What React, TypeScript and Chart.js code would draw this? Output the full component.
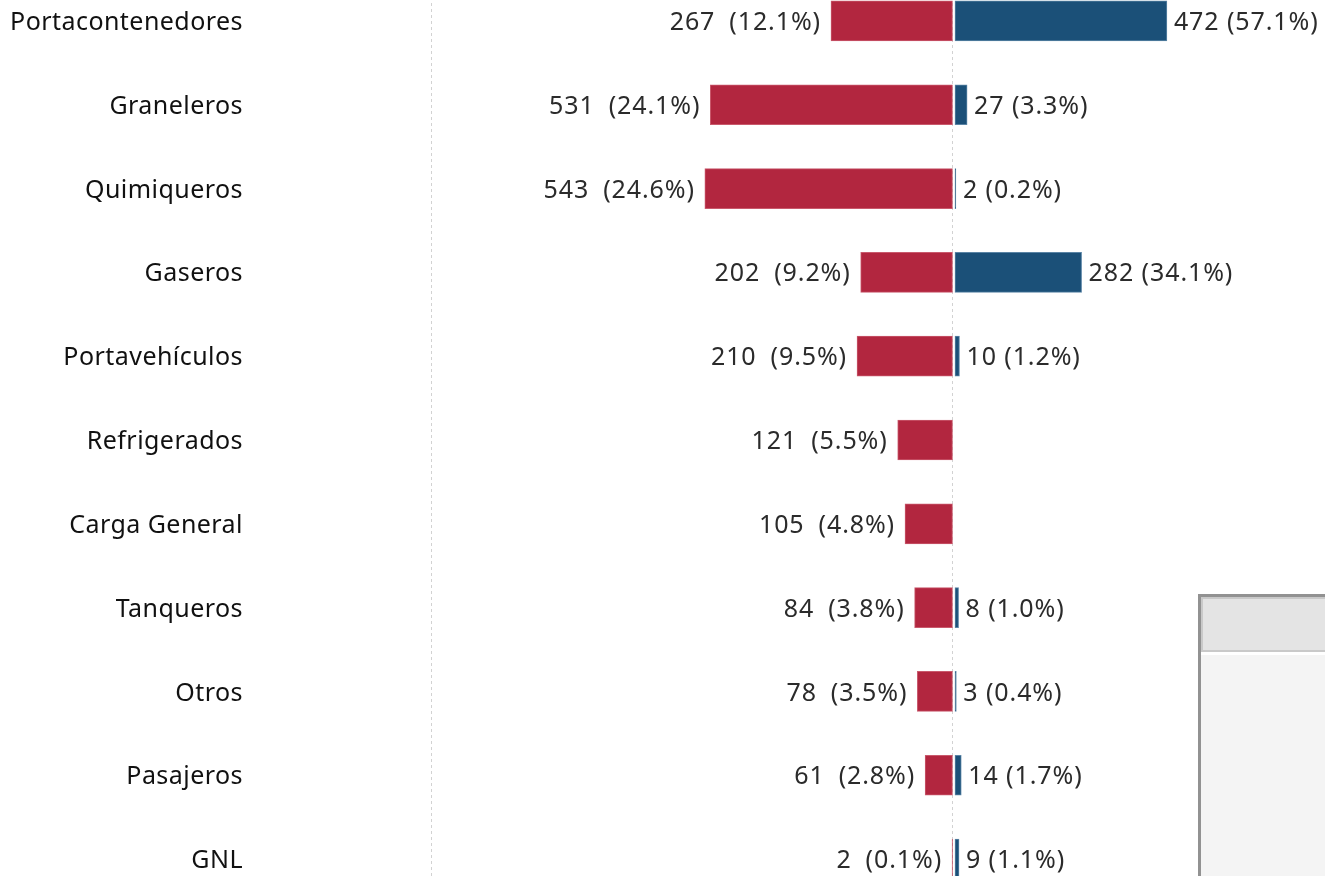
import { useEffect, useRef } from "react";
import { Chart, registerables } from "chart.js";

Chart.register(...registerables);

const categories = [
  "Portacontenedores",
  "Graneleros",
  "Quimiqueros",
  "Gaseros",
  "Portavehículos",
  "Refrigerados",
  "Carga General",
  "Tanqueros",
  "Otros",
  "Pasajeros",
  "GNL",
];
const leftValues = [267, 531, 543, 202, 210, 121, 105, 84, 78, 61, 2];
const leftPercents = ["12.1%", "24.1%", "24.6%", "9.2%", "9.5%", "5.5%", "4.8%", "3.8%", "3.5%", "2.8%", "0.1%"];
const rightValues = [472, 27, 2, 282, 10, 0, 0, 8, 3, 14, 9];
const rightPercents = ["57.1%", "3.3%", "0.2%", "34.1%", "1.2%", "", "", "1.0%", "0.4%", "1.7%", "1.1%"];

const RED = "#B2263F";
const RED_EDGE = "#C9596C";
const BLUE = "#1B5078";
const BLUE_EDGE = "#5A84A5";
const FONT = "'Noto Sans', 'Open Sans', sans-serif";

const spacingPlugin = {
  id: "spacing",
  beforeDraw(chart: any) {
    (chart.ctx as any).letterSpacing = "0.45px";
  },
};

const labelPlugin = {
  id: "valueLabels",
  afterDatasetsDraw(chart: any) {
    const ctx = chart.ctx as CanvasRenderingContext2D;
    ctx.save();
    (ctx as any).letterSpacing = "0.9px";
    ctx.font = `25px ${FONT}`;
    ctx.fillStyle = "#2b2b2b";
    ctx.textBaseline = "middle";
    const m0 = chart.getDatasetMeta(0);
    m0.data.forEach((el: any, i: number) => {
      const pct = `(${leftPercents[i]})`;
      const xr = el.x - 10;
      ctx.textAlign = "right";
      ctx.fillText(pct, xr, el.y + 2);
      const w = ctx.measureText(pct).width;
      ctx.fillText(String(leftValues[i]), xr - w - 14, el.y + 2);
    });
    const m1 = chart.getDatasetMeta(1);
    m1.data.forEach((el: any, i: number) => {
      if (!rightValues[i]) return;
      ctx.textAlign = "left";
      ctx.fillText(`${rightValues[i]} (${rightPercents[i]})`, el.x + 7, el.y + 2);
    });
    ctx.restore();
  },
};

export default function App() {
  const ref = useRef<HTMLCanvasElement | null>(null);
  useEffect(() => {
    if (!ref.current) return;
    const chart = new Chart(ref.current, {
      type: "bar",
      data: {
        labels: categories,
        datasets: [
          {
            data: leftValues.map((v) => -v),
            xAxisID: "x",
            backgroundColor: RED,
            borderColor: RED_EDGE,
            borderWidth: 1,
            borderSkipped: false,
            barThickness: 40,
            grouped: false,
          } as any,
          {
            data: rightValues,
            xAxisID: "x2",
            backgroundColor: BLUE,
            borderColor: BLUE_EDGE,
            borderWidth: 1,
            borderSkipped: false,
            barThickness: 40,
            grouped: false,
          } as any,
        ],
      },
      options: {
        indexAxis: "y",
        animation: false,
        responsive: true,
        maintainAspectRatio: false,
        events: [],
        layout: { padding: 0 },
        plugins: { legend: { display: false }, tooltip: { enabled: false } },
        scales: {
          x: {
            type: "linear",
            position: "bottom",
            min: -1142.2,
            max: 814,
            afterBuildTicks: (s: any) => {
              s.ticks = [{ value: s.min }, { value: 0 }];
            },
            afterFit: (s: any) => {
              s.height = 0;
              s.paddingLeft = 0;
              s.paddingRight = 0;
            },
            ticks: { display: false },
            grid: { color: "#d2d2d2", lineWidth: 1, drawTicks: false },
            border: { display: false, dash: [3, 3] },
          },
          x2: {
            type: "linear",
            position: "top",
            display: false,
            min: -1167,
            max: 824.1,
          },
          y: {
            type: "category",
            position: "left",
            afterFit: (s: any) => {
              s.width = 431;
              s.paddingTop = 0;
              s.paddingBottom = 0;
            },
            ticks: {
              padding: 188,
              labelOffset: 2,
              color: "#111",
              font: { family: FONT, size: 25 },
            },
            grid: { display: false, drawTicks: false },
            border: { display: false },
          },
        },
      } as any,
      plugins: [spacingPlugin, labelPlugin],
    });
    return () => chart.destroy();
  }, []);

  return (
    <div
      style={{
        position: "fixed",
        left: 0,
        top: 0,
        width: 1325,
        height: 876,
        overflow: "hidden",
        background: "#fff",
      }}
    >
      <div style={{ position: "absolute", left: 0, top: -21, width: 1325, height: 922 }}>
        <canvas ref={ref} />
      </div>
      <div
        style={{
          position: "absolute",
          left: 1198,
          top: 594,
          width: 140,
          height: 300,
          background: "#f4f4f4",
          borderLeft: "3px solid #929292",
          borderTop: "3px solid #929292",
          boxSizing: "border-box",
        }}
      >
        <div
          style={{
            position: "absolute",
            left: 0,
            top: 0,
            width: 150,
            height: 55,
            background: "#e4e4e4",
            border: "2px solid #c9c9c9",
            boxSizing: "border-box",
          }}
        />
        <div
          style={{
            position: "absolute",
            left: 0,
            top: 55,
            width: 150,
            height: 3,
            background: "#ffffff",
          }}
        />
      </div>
    </div>
  );
}
